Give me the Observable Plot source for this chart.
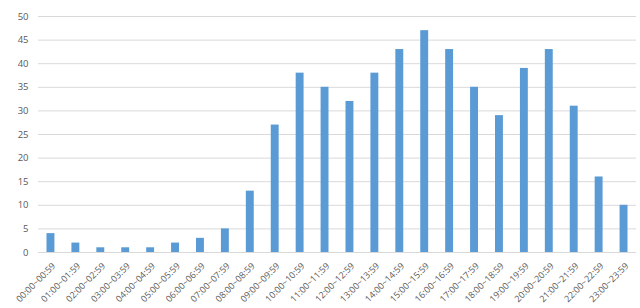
<!DOCTYPE html>
<html>
<head>
<meta charset="utf-8">
<script src="https://cdn.jsdelivr.net/npm/d3@7"></script>
<script src="https://cdn.jsdelivr.net/npm/@observablehq/plot@0.6"></script>
<style>
  html, body { margin: 0; padding: 0; background: #fff; }
  #chart svg { display: block; }
</style>
</head>
<body>
<div id="chart"></div>
<script>
// Hourly slots and their counts
const hours = [
  "00:00~00:59", "01:00~01:59", "02:00~02:59", "03:00~03:59", "04:00~04:59", "05:00~05:59",
  "06:00~06:59", "07:00~07:59", "08:00~08:59", "09:00~09:59", "10:00~10:59", "11:00~11:59",
  "12:00~12:59", "13:00~13:59", "14:00~14:59", "15:00~15:59", "16:00~16:59", "17:00~17:59",
  "18:00~18:59", "19:00~19:59", "20:00~20:59", "21:00~21:59", "22:00~22:59", "23:00~23:59"
];
const counts = [4, 2, 1, 1, 1, 2, 3, 5, 13, 27, 38, 35, 32, 38, 43, 47, 43, 35, 29, 39, 43, 31, 16, 10];
const yTicks = [0, 5, 10, 15, 20, 25, 30, 35, 40, 45, 50];

const data = hours.map((h, i) => ({hour: h, count: counts[i]}));

const chart = Plot.plot({
  width: 640,
  height: 308,
  marginTop: 16,
  marginBottom: 56,
  marginLeft: 38,
  marginRight: 4,
  style: {fontFamily: "'Open Sans', 'DejaVu Sans', sans-serif", fontSize: "9px", color: "#595959", background: "#fff"},
  x: {domain: hours, padding: 0, round: false, label: null, axis: null},
  y: {domain: [0, 50], label: null},
  marks: [
    Plot.gridY(yTicks, {stroke: "#d9d9d9", strokeOpacity: 1}),
    Plot.axisY(yTicks, {tickSize: 0, tickPadding: 10, fontSize: 9.5, label: null}),
    // slanted hour labels hanging below the baseline
    Plot.text(hours, {
      x: d => d,
      frameAnchor: "bottom",
      rotate: -45,
      textAnchor: "end",
      lineAnchor: "middle",
      dx: 3,
      dy: 12,
      fontSize: 9,
      fill: "#595959"
    }),
    // narrow bars centred in each hourly slot
    Plot.barY(data, {x: "hour", y: "count", fill: "#5b9bd5", insetLeft: 8.5, insetRight: 8.5}),
    Plot.ruleY([0], {stroke: "#d9d9d9"})
  ]
});
document.getElementById("chart").append(chart);
</script>
</body>
</html>
